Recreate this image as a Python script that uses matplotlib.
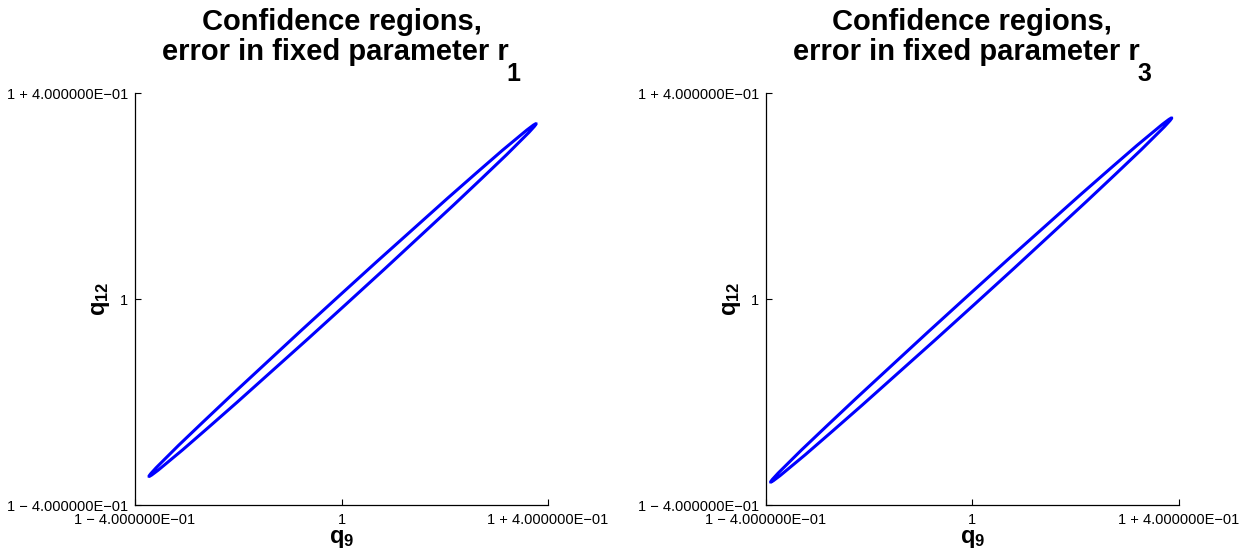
import matplotlib
matplotlib.use("Agg")
import matplotlib.pyplot as plt
from matplotlib.patches import Ellipse

plt.rcParams["font.family"] = ["Liberation Sans", "DejaVu Sans"]
plt.rcParams["mathtext.fontset"] = "custom"
plt.rcParams["mathtext.rm"] = "Liberation Sans"
plt.rcParams["mathtext.bf"] = "Liberation Sans:bold"
plt.rcParams["mathtext.it"] = "Liberation Sans:italic"

# Confidence ellipses for (q9, q12): centre, full axis lengths, tilt (degrees)
fixed_params = ["1", "3"]
centers = [(1.002, 0.998), (0.998, 0.998)]
major_lengths = [1.015, 1.050]
minor_lengths = [0.021, 0.021]
angles = [42.4, 42.3]

tick_values = [0.6, 1.0, 1.4]
tick_labels = ["1 \u2212 4.000000E\u221201", "1", "1 + 4.000000E\u221201"]

fig = plt.figure(figsize=(12.39, 5.54), dpi=100)
lefts = [0.109, 0.618]

for i, left in enumerate(lefts):
    ax = fig.add_axes([left, 0.0884, 0.3333, 0.7437])
    ell = Ellipse(centers[i], major_lengths[i], minor_lengths[i], angle=angles[i],
                  fill=False, edgecolor="#0000ff", linewidth=2.2)
    ax.add_patch(ell)
    ax.set_xlim(0.6, 1.4)
    ax.set_ylim(0.6, 1.4)
    ax.set_xticks(tick_values)
    ax.set_xticklabels(tick_labels, fontsize=10.5)
    ax.set_yticks(tick_values)
    ax.set_yticklabels(tick_labels, fontsize=10.5)
    ax.tick_params(direction="in", length=4, width=0.8)
    ax.tick_params(axis="x", pad=5.5)
    ax.tick_params(axis="y", pad=5)
    for side in ("top", "right"):
        ax.spines[side].set_visible(False)
    for side in ("left", "bottom"):
        ax.spines[side].set_linewidth(0.9)
    ax.set_xlabel(r"$\mathbf{q_{9}}$", fontsize=17, labelpad=1)
    ax.set_ylabel(r"$\mathbf{q_{12}}$", fontsize=17)
    ax.yaxis.set_label_coords(-0.055, 0.5)

    # two-line title; the second line carries a dropped subscript
    ax.text(0.5, 1.153, "Confidence regions,", transform=ax.transAxes,
            ha="center", va="baseline", fontsize=21, fontweight="bold")
    line2 = ax.text(0.485, 1.080, "error in fixed parameter r", transform=ax.transAxes,
                    ha="center", va="baseline", fontsize=21, fontweight="bold")
    ax.annotate(fixed_params[i], xy=(1, 0), xycoords=line2,
                xytext=(-1.5, -11), textcoords="offset points",
                ha="left", va="baseline", fontsize=18, fontweight="bold")

fig.savefig("out.png", dpi=100)
